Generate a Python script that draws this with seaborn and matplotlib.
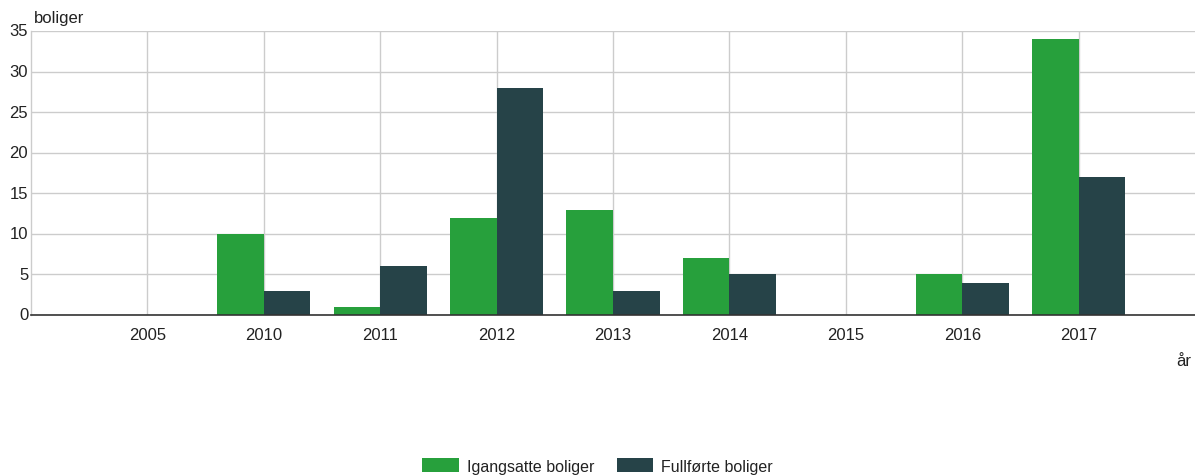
import matplotlib
matplotlib.use("Agg")
import matplotlib.pyplot as plt
import seaborn as sns
import pandas as pd

# Housing starts and completions per year
years = ["2005", "2010", "2011", "2012", "2013", "2014", "2015", "2016", "2017"]
igangsatte = [0, 10, 1, 12, 13, 7, 0, 5, 34]
fullforte = [0, 3, 6, 28, 3, 5, 0, 4, 17]
series_names = ["Igangsatte boliger", "Fullførte boliger"]
colors = ["#27a03c", "#264348"]

df = pd.DataFrame({
    "år": years * 2,
    "boliger": igangsatte + fullforte,
    "serie": [series_names[0]] * len(years) + [series_names[1]] * len(years),
})

sns.set_theme(style="white")
plt.rcParams["font.family"] = ["Liberation Sans", "DejaVu Sans"]

fs = 12
txt_color = "#222222"

fig = plt.figure(figsize=(11.95, 4.77), dpi=100)
ax = fig.add_axes([31 / 1195, 1 - 316 / 477, 1 - 31 / 1195, (316 - 32) / 477])

sns.barplot(data=df, x="år", y="boliger", hue="serie", order=years,
            hue_order=series_names, palette=colors, width=0.8,
            saturation=1, linewidth=0, ax=ax, zorder=3)

ax.set_xlim(-1, 9)
ax.set_ylim(0, 35)
ax.set_yticks(range(0, 36, 5))
ax.grid(True, axis="both", color="#cccccc", linewidth=1, zorder=0)
ax.set_axisbelow(True)
ax.tick_params(axis="both", length=0, labelsize=fs, colors=txt_color)
ax.tick_params(axis="x", pad=8.5)
ax.tick_params(axis="y", pad=2)
for lbl in ax.get_yticklabels():
    lbl.set_verticalalignment("center")

for side in ["top", "right"]:
    ax.spines[side].set_visible(False)
ax.spines["left"].set_color("#cccccc")
ax.spines["left"].set_linewidth(1)
ax.spines["bottom"].set_color("#333333")
ax.spines["bottom"].set_linewidth(1.2)
ax.spines["bottom"].set_zorder(4)

ax.set_xlabel("")
ax.set_ylabel("")
fig.text(34 / 1195, 1 - 19 / 477, "boliger", fontsize=fs, color=txt_color,
         ha="left", va="center")
fig.text(1176 / 1195, 1 - 362 / 477, "år", fontsize=fs, color=txt_color,
         ha="left", va="center")

leg = ax.legend(loc="center", bbox_to_anchor=(0.5, (477 - 467) / 477),
                bbox_transform=fig.transFigure, ncol=2, frameon=False,
                fontsize=11.5, handlelength=2.3, handleheight=0.9,
                columnspacing=1.4, handletextpad=0.5)
for t in leg.get_texts():
    t.set_color(txt_color)

fig.savefig("out.png", dpi=100)
